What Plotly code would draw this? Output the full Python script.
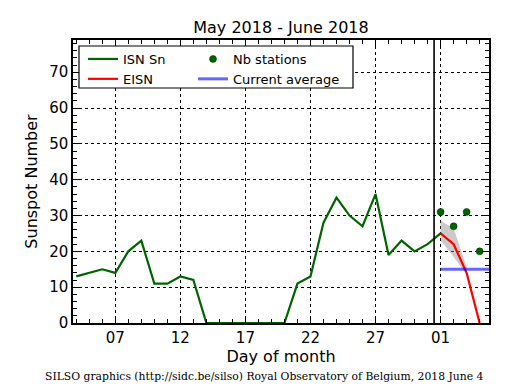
import plotly.graph_objects as go

# ---- data ----
isn_dates = ["2018-05-%02d" % d for d in range(4, 32)] + ["2018-06-01"]
isn_values = [13, 14, 15, 14, 20, 23, 11, 11, 13, 12, 0, 0, 0, 0, 0, 0, 0,
              11, 13, 28, 35, 30, 27, 36, 19, 23, 20, 22, 25]

eisn_dates = ["2018-06-01", "2018-06-02", "2018-06-03", "2018-06-04"]
eisn_values = [25, 22, 14, 0]

band_dates = ["2018-06-01", "2018-06-02", "2018-06-03"]
band_upper = [28.5, 26.5, 15.5]
band_lower = [23, 18.5, 13.5]

nb_dates = ["2018-06-01", "2018-06-02", "2018-06-03", "2018-06-04"]
nb_values = [31, 27, 31, 20]

avg_dates = ["2018-06-01", "2018-06-05"]
avg_values = [15, 15]

tick_dates = ["2018-05-07", "2018-05-12", "2018-05-17", "2018-05-22", "2018-05-27", "2018-06-01"]
tick_labels = ["07", "12", "17", "22", "27", "01"]

x_range = ["2018-05-03 18:00", "2018-06-04 17:17"]
month_split = "2018-05-31 12:00"

# page body has an 8px margin: work in screen px and shift
OFF = 8
FW, FH = 515 - OFF, 390 - OFF
L, R, T, B = 73 - OFF, 489 - OFF, 40 - OFF, 323 - OFF
W, H = R - L, B - T
def px_x(p):
    return (p - OFF - L) / W
def px_y(p):
    return (B - (p - OFF)) / H

fig = go.Figure()

fig.add_trace(go.Scatter(x=band_dates, y=band_upper, mode="lines", line=dict(width=0),
                         showlegend=False, hoverinfo="skip"))
fig.add_trace(go.Scatter(x=band_dates, y=band_lower, mode="lines", line=dict(width=0),
                         fill="tonexty", fillcolor="rgba(140,140,140,0.45)",
                         showlegend=False, hoverinfo="skip"))

fig.add_trace(go.Scatter(x=isn_dates, y=isn_values, mode="lines", name="ISN Sn",
                         line=dict(color="#006400", width=2.2), legend="legend"))
fig.add_trace(go.Scatter(x=eisn_dates, y=eisn_values, mode="lines", name="EISN",
                         line=dict(color="#ff0000", width=2.2), legend="legend"))
fig.add_trace(go.Scatter(x=nb_dates, y=nb_values, mode="markers", name="Nb stations",
                         marker=dict(color="#006400", size=7, line=dict(color="#003300", width=0.5)),
                         legend="legend2"))
fig.add_trace(go.Scatter(x=avg_dates, y=avg_values, mode="lines", name="Current average",
                         line=dict(color="rgba(0,0,255,0.6)", width=3), legend="legend2"))

fig.add_shape(type="line", xref="x", yref="paper", x0=month_split, x1=month_split,
              y0=0, y1=1, line=dict(color="black", width=1.6))
fig.add_shape(type="rect", xref="paper", yref="paper",
              x0=px_x(79), x1=px_x(353), y0=px_y(88), y1=px_y(46),
              line=dict(color="black", width=1.2), fillcolor="white", layer="above")

axis_common = dict(
    showline=True, linecolor="black", linewidth=1.5, mirror="allticks",
    ticks="inside", ticklen=7, tickwidth=1, tickcolor="black",
    showgrid=True, gridcolor="black", gridwidth=1, griddash="dot",
    zeroline=False, automargin=False,
    tickfont=dict(family="DejaVu Sans", size=15, color="black"),
)

fig.update_xaxes(type="date", range=x_range, tickvals=tick_dates, ticktext=tick_labels,
                 title=dict(text="Day of month", font=dict(family="DejaVu Sans", size=16, color="black"),
                            standoff=4),
                 minor=dict(ticks="inside", ticklen=4, tickcolor="black", dtick=86400000,
                            tick0="2018-05-01", showgrid=False),
                 **axis_common)
fig.update_yaxes(range=[0, 79], dtick=10, tick0=0,
                 title=dict(text="Sunspot Number", font=dict(family="DejaVu Sans", size=16, color="black"),
                            standoff=8),
                 minor=dict(ticks="inside", ticklen=4, tickcolor="black", dtick=2, showgrid=False),
                 **axis_common)

legend_font = dict(family="DejaVu Sans", size=13, color="black")
fig.update_layout(
    width=FW, height=FH,
    margin=dict(l=L, r=FW - R, t=T, b=FH - B),
    paper_bgcolor="white", plot_bgcolor="white",
    title=dict(text="May 2018 - June 2018", x=(0.5 * (73 + 489) - OFF) / FW, xanchor="center",
               y=1 - (27 - OFF) / FH, yanchor="middle",
               font=dict(family="DejaVu Sans", size=16, color="black")),
    legend=dict(x=px_x(83), y=px_y(44), xanchor="left", yanchor="top",
                bgcolor="rgba(0,0,0,0)", borderwidth=0, font=legend_font,
                tracegroupgap=0, traceorder="normal"),
    legend2=dict(x=px_x(193), y=px_y(44), xanchor="left", yanchor="top",
                 bgcolor="rgba(0,0,0,0)", borderwidth=0, font=legend_font,
                 tracegroupgap=0, traceorder="normal"),
    showlegend=True,
    annotations=[dict(text="SILSO graphics (http://sidc.be/silso) Royal Observatory of Belgium, 2018 June 4",
                      xref="paper", yref="paper", x=px_x(0.5 * (39 + 489)), y=px_y(376),
                      xanchor="center", yanchor="middle", showarrow=False,
                      font=dict(family="DejaVu Serif", size=10.8, color="black"))],
)

fig.write_html("out.html")
